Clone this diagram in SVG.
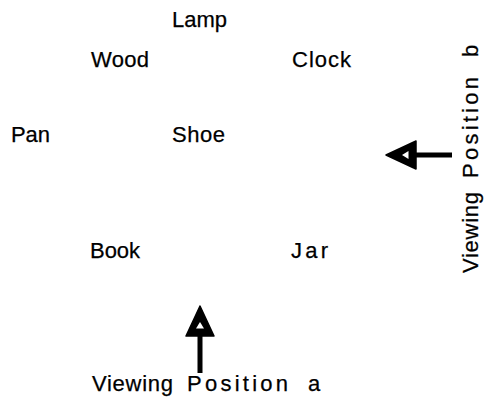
<svg xmlns="http://www.w3.org/2000/svg" width="486" height="404" viewBox="0 0 486 404">
<style>
.lbl{font-family:"Liberation Sans",Arial,Helvetica,sans-serif;font-size:22px;fill:#000;stroke:#000;stroke-width:0.25}
</style>
<defs>
<g id="arrowhead">
<polygon points="0,0 -14,30 14,30" fill="#000" stroke="#000" stroke-width="1.5" stroke-linejoin="round"/>
<polygon points="0,16 -4,22.5 4,22.5" fill="#fff"/>
</g>
</defs>
<rect width="486" height="404" fill="#fff"/>
<g id="node-lamp"><text class="lbl" x="172" y="27" textLength="55" lengthAdjust="spacing">Lamp</text></g>
<g id="node-wood"><text class="lbl" x="91" y="67" textLength="58" lengthAdjust="spacing">Wood</text></g>
<g id="node-clock"><text class="lbl" x="292" y="67" textLength="59" lengthAdjust="spacing">Clock</text></g>
<g id="node-pan"><text class="lbl" x="11" y="142" textLength="39" lengthAdjust="spacing">Pan</text></g>
<g id="node-shoe"><text class="lbl" x="172" y="142" textLength="53" lengthAdjust="spacing">Shoe</text></g>
<g id="node-book"><text class="lbl" x="90" y="258" textLength="50" lengthAdjust="spacing">Book</text></g>
<g id="node-jar"><text class="lbl" x="291" y="258" textLength="37" lengthAdjust="spacing">Jar</text></g>
<g id="viewing-a">
<text class="lbl" y="391"><tspan x="92" textLength="81" lengthAdjust="spacing">Viewing</tspan><tspan x="187" textLength="101" lengthAdjust="spacing">Position</tspan><tspan x="308">a</tspan></text>
</g>
<g id="viewing-b">
<text class="lbl" transform="translate(478,273) rotate(-90)" y="0"><tspan x="0" textLength="81" lengthAdjust="spacing">Viewing</tspan><tspan x="95" textLength="101" lengthAdjust="spacing">Position</tspan><tspan x="216">b</tspan></text>
</g>
<g id="connectors">
<g id="arrow-a">
<rect x="197.5" y="334" width="5" height="39" fill="#000"/>
<use href="#arrowhead" transform="translate(200,306)"/>
</g>
<g id="arrow-b">
<rect x="411" y="152.5" width="41" height="5" fill="#000"/>
<use href="#arrowhead" transform="translate(386,155) rotate(-90)"/>
</g>
</g>
</svg>
